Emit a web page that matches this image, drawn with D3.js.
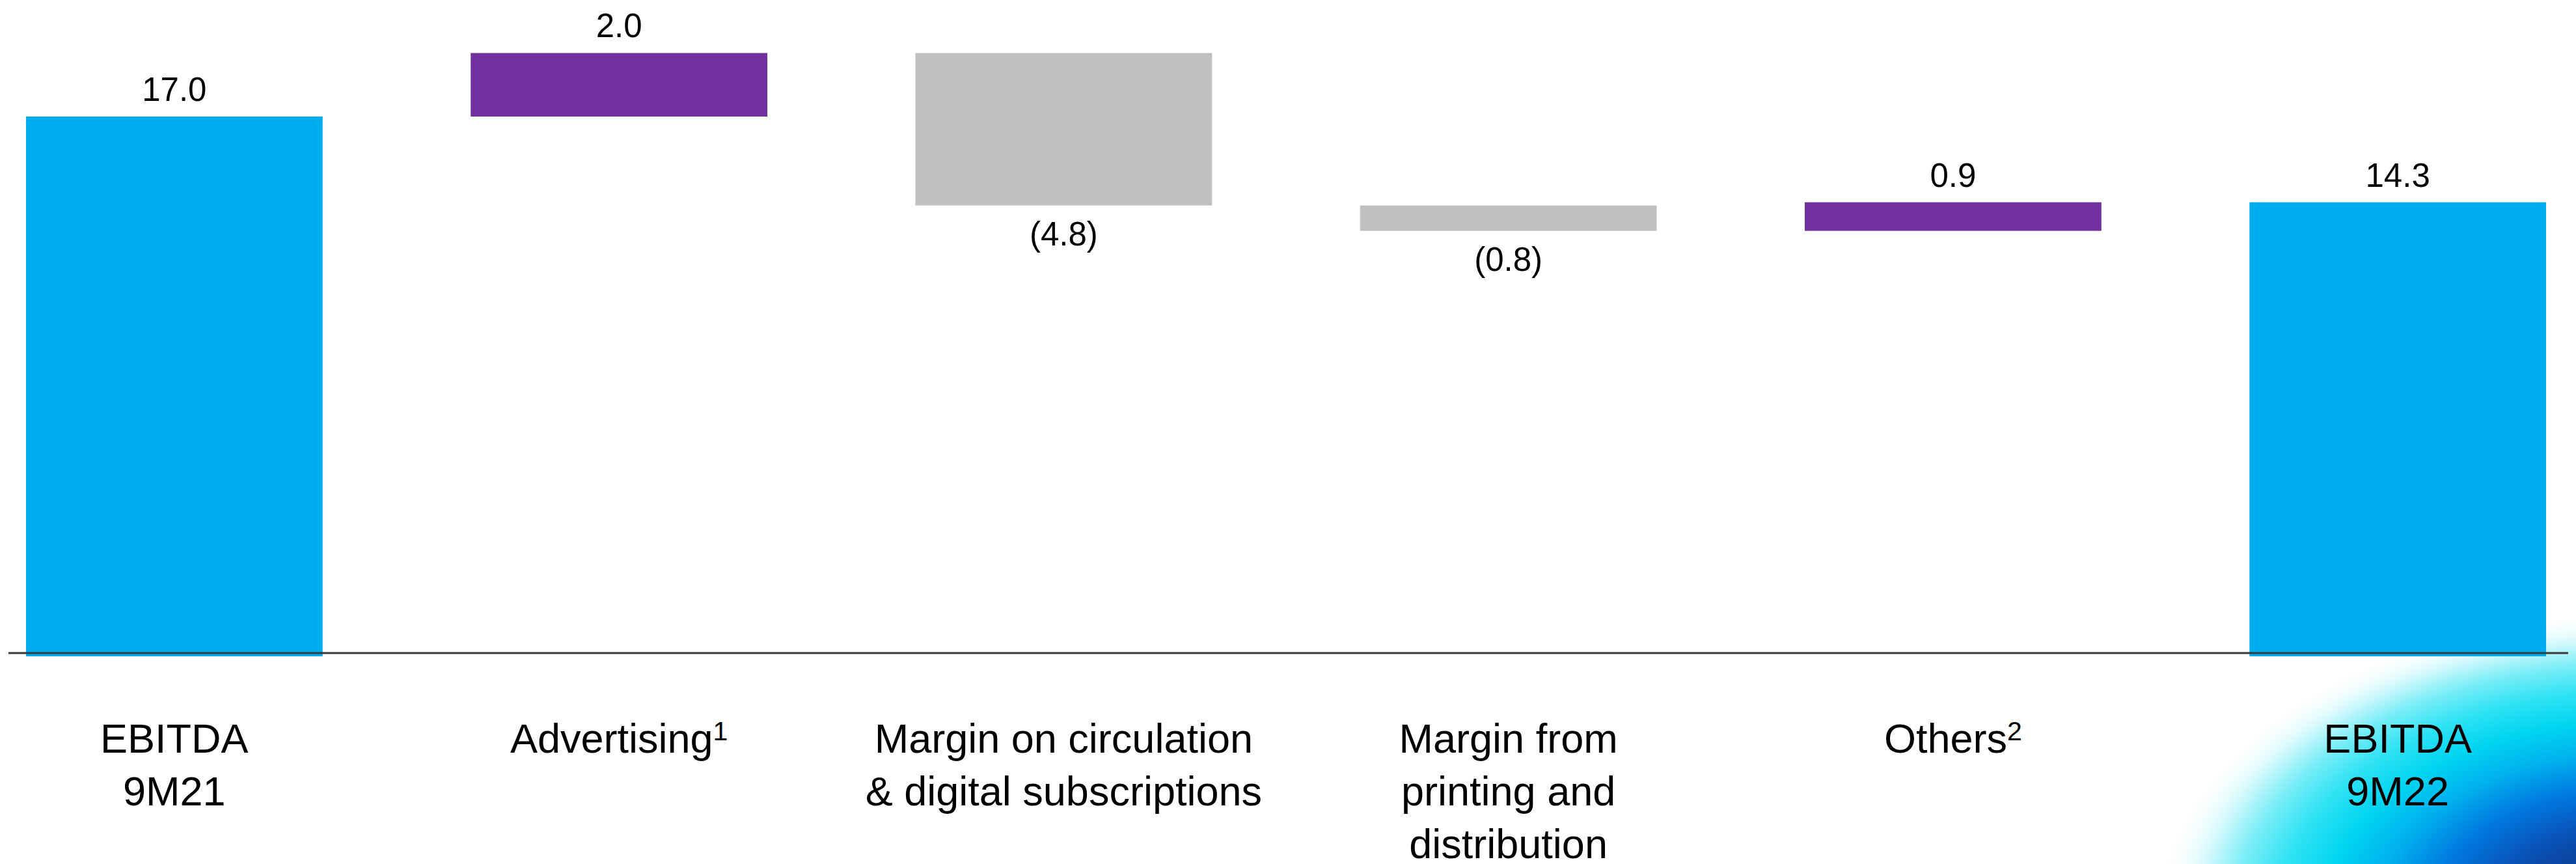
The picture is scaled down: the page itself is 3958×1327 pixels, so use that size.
<!DOCTYPE html>
<html>
<head>
<meta charset="utf-8">
<script src="https://cdn.jsdelivr.net/npm/d3@7"></script>
<style>
  html, body { margin: 0; padding: 0; background: #ffffff; }
  svg { display: block; }
</style>
</head>
<body>
<svg id="chart" width="3958" height="1327"></svg>
<script>
// ---- data ----
const categories = [
  ["EBITDA", "9M21"],
  ["Advertising"],
  ["Margin on circulation", "& digital subscriptions"],
  ["Margin from", "printing and", "distribution"],
  ["Others"],
  ["EBITDA", "9M22"]
];
const superscripts = ["", "1", "", "", "2", ""];
const values = [17.0, 2.0, -4.8, -0.8, 0.9, 14.3];
const kinds = ["total", "delta", "delta", "delta", "delta", "total"];
const valueLabels = ["17.0", "2.0", "(4.8)", "(0.8)", "0.9", "14.3"];

// ---- layout ----
const W = 3958, H = 1327;
const svg = d3.select("#chart");
const font = "'Liberation Sans', Arial, sans-serif";

// background gradient blob (bottom right)
const defs = svg.append("defs");
const rg = defs.append("radialGradient")
  .attr("id", "blob")
  .attr("gradientUnits", "userSpaceOnUse")
  .attr("cx", 0).attr("cy", 0).attr("r", 1)
  .attr("gradientTransform", "translate(4040,1410) scale(730,470)");
[[0, "#0a2468"], [0.16, "#0b3a8c"], [0.3, "#0a52b8"], [0.42, "#0078e0"],
 [0.54, "#00b2ee"], [0.64, "#00d4f0"], [0.74, "#2ee2f4"], [0.83, "#78edf7"],
 [0.91, "#d4f9fc"], [1, "#ffffff"]]
  .forEach(([o, c]) => rg.append("stop").attr("offset", o).attr("stop-color", c)
    .attr("stop-opacity", o === 1 ? 0 : 1));
svg.append("rect").attr("x", 3200).attr("y", 900).attr("width", 758).attr("height", 427)
  .attr("fill", "url(#blob)");

// scales
const idx = d3.range(values.length);
const x = d3.scaleBand().domain(idx).range([40, 3912]).paddingInner(0.333).paddingOuter(0);
const y = d3.scaleLinear().domain([0, 17]).range([1008, 179]);

// waterfall positions
let running = 0;
const bars = idx.map(i => {
  let lo, hi;
  if (kinds[i] === "total") { lo = 0; hi = values[i]; running = values[i]; }
  else { const s = running; running += values[i]; lo = Math.min(s, running); hi = Math.max(s, running); }
  return { i, lo, hi, v: values[i], kind: kinds[i] };
});

const colorOf = d => d.kind === "total" ? "#00AEEF" : (d.v >= 0 ? "#7030A0" : "#BFBFBF");

svg.append("g").selectAll("rect").data(bars).join("rect")
  .attr("x", d => x(d.i))
  .attr("width", x.bandwidth())
  .attr("y", d => y(d.hi))
  .attr("height", d => y(d.lo) - y(d.hi))
  .attr("fill", colorOf);

// baseline
svg.append("line")
  .attr("x1", 13).attr("x2", 3946)
  .attr("y1", y(0) - 5).attr("y2", y(0) - 5)
  .attr("stroke", "#3a3a3a").attr("stroke-width", 3);

// value labels
svg.append("g").selectAll("text").data(bars).join("text")
  .attr("x", d => x(d.i) + x.bandwidth() / 2)
  .attr("y", d => d.v >= 0 ? y(d.hi) - 24 : y(d.lo) + 61)
  .attr("text-anchor", "middle")
  .attr("font-family", font)
  .attr("font-size", 51)
  .attr("fill", "#000")
  .text(d => valueLabels[d.i]);

// category labels
const cat = svg.append("g").selectAll("text").data(idx).join("text")
  .attr("x", i => x(i) + x.bandwidth() / 2)
  .attr("y", 1156)
  .attr("text-anchor", "middle")
  .attr("font-family", font)
  .attr("font-size", 63)
  .attr("fill", "#000");
cat.each(function(i) {
  const t = d3.select(this);
  categories[i].forEach((line, k) => {
    t.append("tspan")
      .attr("x", x(i) + x.bandwidth() / 2)
      .attr("dy", k === 0 ? 0 : 81)
      .text(line);
    if (k === 0 && superscripts[i]) {
      t.append("tspan").attr("font-size", 41).attr("dy", -19).text(superscripts[i]);
    }
  });
});
</script>
</body>
</html>
